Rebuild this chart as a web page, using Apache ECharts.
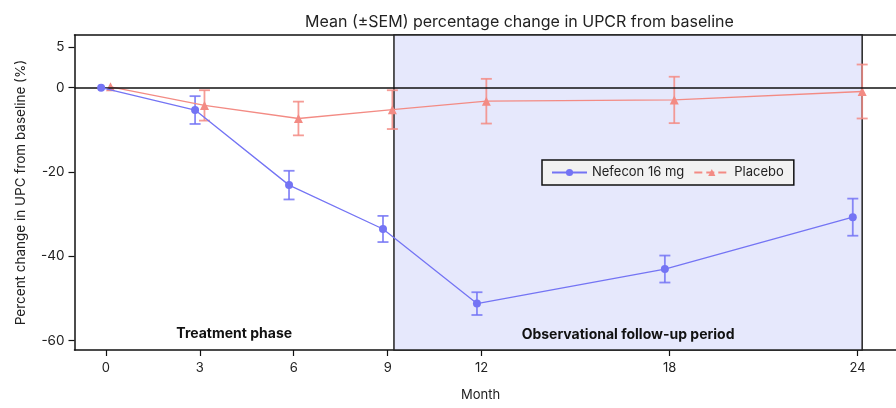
<!DOCTYPE html>
<html>
  <head>
    <meta charset="utf-8" />
    <title>UPCR change</title>
    <script src="https://cdn.jsdelivr.net/npm/echarts@6.0.0/dist/echarts.min.js"></script>
    <style>
      body { margin: 0; background: #fff; }
      #main { width: 896px; height: 408px; }
    </style>
  </head>
  <body>
    <div id="main"></div>
    <script type="text/javascript">
// month of each visit
var months = [0, 3, 6, 9, 12, 18, 24];
// Nefecon 16 mg: mean and SEM
var nefMean = [0, -5.3, -23.1, -33.5, -51.2, -43.0, -30.7];
var nefSem = [0, 3.3, 3.4, 3.1, 2.7, 3.2, 4.4];
// Placebo: mean and SEM
var plaMean = [0.2, -4.2, -7.3, -5.2, -3.2, -2.9, -0.9];
var plaSem = [0, 3.6, 4.0, 4.6, 5.3, 5.5, 6.4];
// axis ticks
var xTicks = [0, 3, 6, 9, 12, 18, 24];
var yTicks = [9.6, 0, -20, -40, -60];
var yTickLabels = ['5', '0', '-20', '-40', '-60'];
// phases
var followStart = 9.2;
var followEnd = 24.15;

var blue = '#7474f4';
var red = '#f38b84';
var dodge = 0.15;
var font = 'Inter, "Noto Sans", sans-serif';

function points(mean, shift) {
  return months.map(function (m, i) { return [m + shift, mean[i]]; });
}
function bars(mean, sem, shift) {
  return months.map(function (m, i) { return [m + shift, mean[i] - sem[i], mean[i] + sem[i]]; })
    .filter(function (d, i) { return sem[i] > 0; });
}
function errorBar(color) {
  return function (params, api) {
    var x = api.value(0);
    var top = api.coord([x, api.value(2)]);
    var bot = api.coord([x, api.value(1)]);
    var w = 5.5;
    var st = { stroke: color, lineWidth: 1.8, opacity: 0.85 };
    return {
      type: 'group',
      children: [
        { type: 'line', shape: { x1: top[0], y1: top[1], x2: bot[0], y2: bot[1] }, style: st },
        { type: 'line', shape: { x1: top[0] - w, y1: top[1], x2: top[0] + w, y2: top[1] }, style: st },
        { type: 'line', shape: { x1: bot[0] - w, y1: bot[1], x2: bot[0] + w, y2: bot[1] }, style: st }
      ]
    };
  };
}

var myChart = echarts.init(document.getElementById('main'));
var phaseLabel = { show: true, position: 'insideBottom', distance: 9, color: '#111', fontWeight: 'bold', fontSize: 14, fontFamily: font };
var frameLine = { show: true, onZero: false, lineStyle: { color: '#111', width: 1.5 } };

var option = {
  animation: false,
  textStyle: { fontFamily: font },
  title: {
    text: 'Mean (±SEM) percentage change in UPCR from baseline',
    left: 300,
    top: 9,
    textStyle: { fontSize: 16, fontWeight: 'normal', color: '#222', fontFamily: font }
  },
  grid: {
    left: 74.5,
    top: 35,
    bottom: 58,
    right: 0
  },
  legend: {
    left: 542,
    top: 160,
    padding: [6, 10, 6, 9],
    backgroundColor: '#f2f2f2',
    borderColor: '#111',
    borderWidth: 1.5,
    itemWidth: 35,
    itemHeight: 9,
    itemGap: 9,
    textStyle: { fontSize: 13, color: '#222', fontFamily: font },
    data: [
      { name: 'Nefecon 16 mg' },
      { name: 'Placebo', lineStyle: { type: 'dashed' } }
    ]
  },
  xAxis: [
    {
      type: 'value',
      min: -1,
      max: 25.23,
      splitLine: { show: false },
      axisLine: frameLine,
      axisTick: { show: true, length: 6, customValues: xTicks, lineStyle: { color: '#111', width: 1.2 } },
      axisLabel: { customValues: xTicks, fontSize: 13, color: '#222', margin: 12, fontFamily: font }
    },
    {
      type: 'value',
      position: 'top',
      min: -1,
      max: 25.23,
      splitLine: { show: false },
      axisLine: frameLine,
      axisTick: { show: false },
      axisLabel: { show: false }
    }
  ],
  yAxis: {
    type: 'value',
    min: -62.2,
    max: 12.5,
    name: 'Percent change in UPC from baseline (%)',
    nameLocation: 'middle',
    nameGap: 47,
    nameTextStyle: { fontSize: 13.5, color: '#222', fontFamily: font },
    splitLine: { show: false },
    axisLine: frameLine,
    axisTick: { show: true, length: 6, customValues: yTicks, lineStyle: { color: '#111', width: 1.2 } },
    axisLabel: {
      customValues: yTicks,
      fontSize: 13.5,
      color: '#222',
      margin: 10,
      fontFamily: font,
      formatter: function (v) { return yTickLabels[yTicks.indexOf(v)]; }
    }
  },
  graphic: [
    {
      type: 'text',
      left: 461,
      top: 389,
      style: { text: 'Month', fontSize: 13, fill: '#222', fontFamily: font }
    }
  ],
  series: [
    {
      name: 'Nefecon 16 mg',
      type: 'line',
      data: points(nefMean, -dodge),
      symbol: 'circle',
      symbolSize: 8,
      color: blue,
      lineStyle: { width: 1.3, color: blue },
      z: 5,
      markArea: {
        silent: true,
        data: [
          [
            { xAxis: -1, itemStyle: { color: 'rgba(0,0,0,0)', borderWidth: 0 }, label: phaseLabel, name: 'Treatment phase' },
            { xAxis: followStart }
          ],
          [
            { xAxis: followStart, itemStyle: { color: '#e6e8fc', borderColor: '#222', borderWidth: 1.5 }, label: phaseLabel, name: 'Observational follow-up period' },
            { xAxis: followEnd }
          ]
        ]
      },
      markLine: {
        silent: true,
        symbol: 'none',
        label: { show: false },
        lineStyle: { color: '#111', type: 'solid', width: 1.5 },
        data: [{ yAxis: 0 }]
      }
    },
    {
      name: 'Placebo',
      type: 'line',
      data: points(plaMean, dodge),
      symbol: 'triangle',
      symbolSize: 9,
      color: red,
      lineStyle: { width: 1.3, color: red },
      z: 4
    },
    {
      name: 'nef-err',
      type: 'custom',
      renderItem: errorBar(blue),
      data: bars(nefMean, nefSem, -dodge),
      z: 3
    },
    {
      name: 'pla-err',
      type: 'custom',
      renderItem: errorBar(red),
      data: bars(plaMean, plaSem, dodge),
      z: 3
    }
  ]
};

myChart.setOption(option);
    </script>
  </body>
</html>
